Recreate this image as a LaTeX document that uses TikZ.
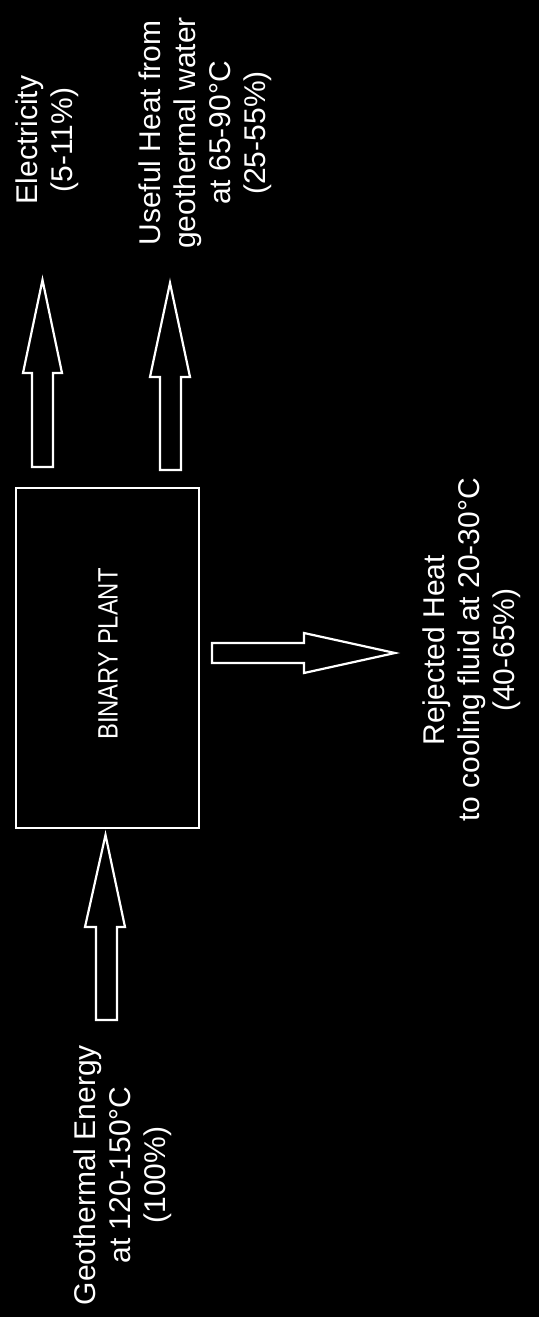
\documentclass[tikz,border=0pt]{standalone}
\usepackage{fontspec}
\setmainfont{Liberation Sans}
\begin{document}
\begin{tikzpicture}[x=1pt,y=-1pt,
  outline/.style={draw=white, line width=2.2pt, line join=miter},
  lbl/.style={text=white, rotate=90, align=center, inner sep=0pt, font=\fontsize{30}{35}\selectfont}]
\fill[black] (0,0) rectangle (539,1317);
\useasboundingbox (0,0) rectangle (539,1317);
% plant box
\node[draw=white, line width=2.5pt, minimum width=183pt, minimum height=340pt, inner sep=0pt] (plant) at (107.5,658) {};
\node[lbl, font=\fontsize{28}{32}\selectfont] (plantlbl) at (108,654) {\scalebox{0.85}[1]{BINARY PLANT}};
% block arrows
\draw[outline] (32,467) -- (32,373) -- (23,373) -- (42.5,280) -- (62,373) -- (53,373) -- (53,467) -- cycle;
\draw[outline] (160,470) -- (160,377) -- (150,377) -- (170,283) -- (190,377) -- (181,377) -- (181,470) -- cycle;
\draw[outline] (96,1020) -- (96,927) -- (85,927) -- (105.5,835) -- (125,927) -- (117,927) -- (117,1020) -- cycle;
\draw[outline] (212,643) -- (304,643) -- (304,633) -- (395,653) -- (304,673) -- (304,663) -- (212,663) -- cycle;
% labels
\node[lbl] (elec) at (47,140) {Electricity\\(5-11\%)};
\node[lbl] (useful) at (205,133) {Useful Heat from\\geothermal water\\at 65-90°C\\(25-55\%)};
\node[lbl] (reject) at (472,650) {Rejected Heat\\to cooling fluid at 20-30°C\\(40-65\%)};
\node[lbl] (geo) at (123,1175) {Geothermal Energy\\at 120-150°C\\(100\%)};
\end{tikzpicture}
\end{document}
